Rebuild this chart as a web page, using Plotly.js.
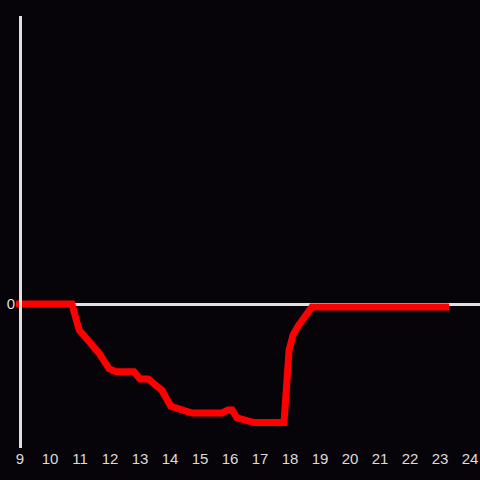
<!DOCTYPE html>
<html>
<head>
<meta charset="utf-8">
<script src="https://cdn.plot.ly/plotly-3.0.1.min.js"></script>
<style>html,body{margin:0;padding:0;background:#060408;}</style>
</head>
<body>
<div id="chart" style="width:480px;height:480px;"></div>
<script>
const hours = [8.87, 10.73, 10.97, 11.33, 11.63, 11.97, 12.2, 12.8, 13.0, 13.27, 13.73, 14.03, 14.27, 14.73, 15.73, 15.93, 16.07, 16.23, 16.8, 17.8, 17.97, 18.1, 18.27, 18.73, 23.3];
const values = [0, 0, -0.18, -0.264, -0.34, -0.45, -0.47, -0.47, -0.52, -0.52, -0.6, -0.71, -0.73, -0.757, -0.757, -0.736, -0.736, -0.79, -0.823, -0.823, -0.32, -0.215, -0.153, -0.02, -0.02];
const xTicks = [9, 10, 11, 12, 13, 14, 15, 16, 17, 18, 19, 20, 21, 22, 23, 24];
const yTicks = [0];

Plotly.newPlot('chart', [{
  x: hours, y: values, type: 'scatter', mode: 'lines',
  line: {color: '#ff0000', width: 7},
  hoverinfo: 'skip'
}], {
  width: 480, height: 480,
  paper_bgcolor: '#060408', plot_bgcolor: '#060408',
  margin: {l: 16, r: 0, t: 16, b: 32},
  showlegend: false,
  font: {family: 'Liberation Sans, Arial, sans-serif', size: 15, color: '#dcdcdc'},
  xaxis: {
    range: [8.8667, 24.333], tickvals: xTicks, ticktext: xTicks.map(String),
    showgrid: false, zeroline: false, showline: false, ticks: '',
    tickfont: {size: 15, color: '#dcdcdc'}
  },
  yaxis: {
    range: [-1, 2], tickvals: yTicks, ticktext: ['0'],
    showgrid: false, zeroline: true, zerolinecolor: '#e0e0e0', zerolinewidth: 3,
    showline: false, ticks: '', ticklabelstandoff: 0,
    tickfont: {size: 15, color: '#dcdcdc'}
  },
  shapes: [{
    type: 'line', xref: 'paper', yref: 'paper',
    x0: 4.5 / 464, x1: 4.5 / 464, y0: 0, y1: 1,
    line: {color: '#e0e0e0', width: 3}, layer: 'above'
  }]
}, {displayModeBar: false, staticPlot: true});
</script>
</body>
</html>
